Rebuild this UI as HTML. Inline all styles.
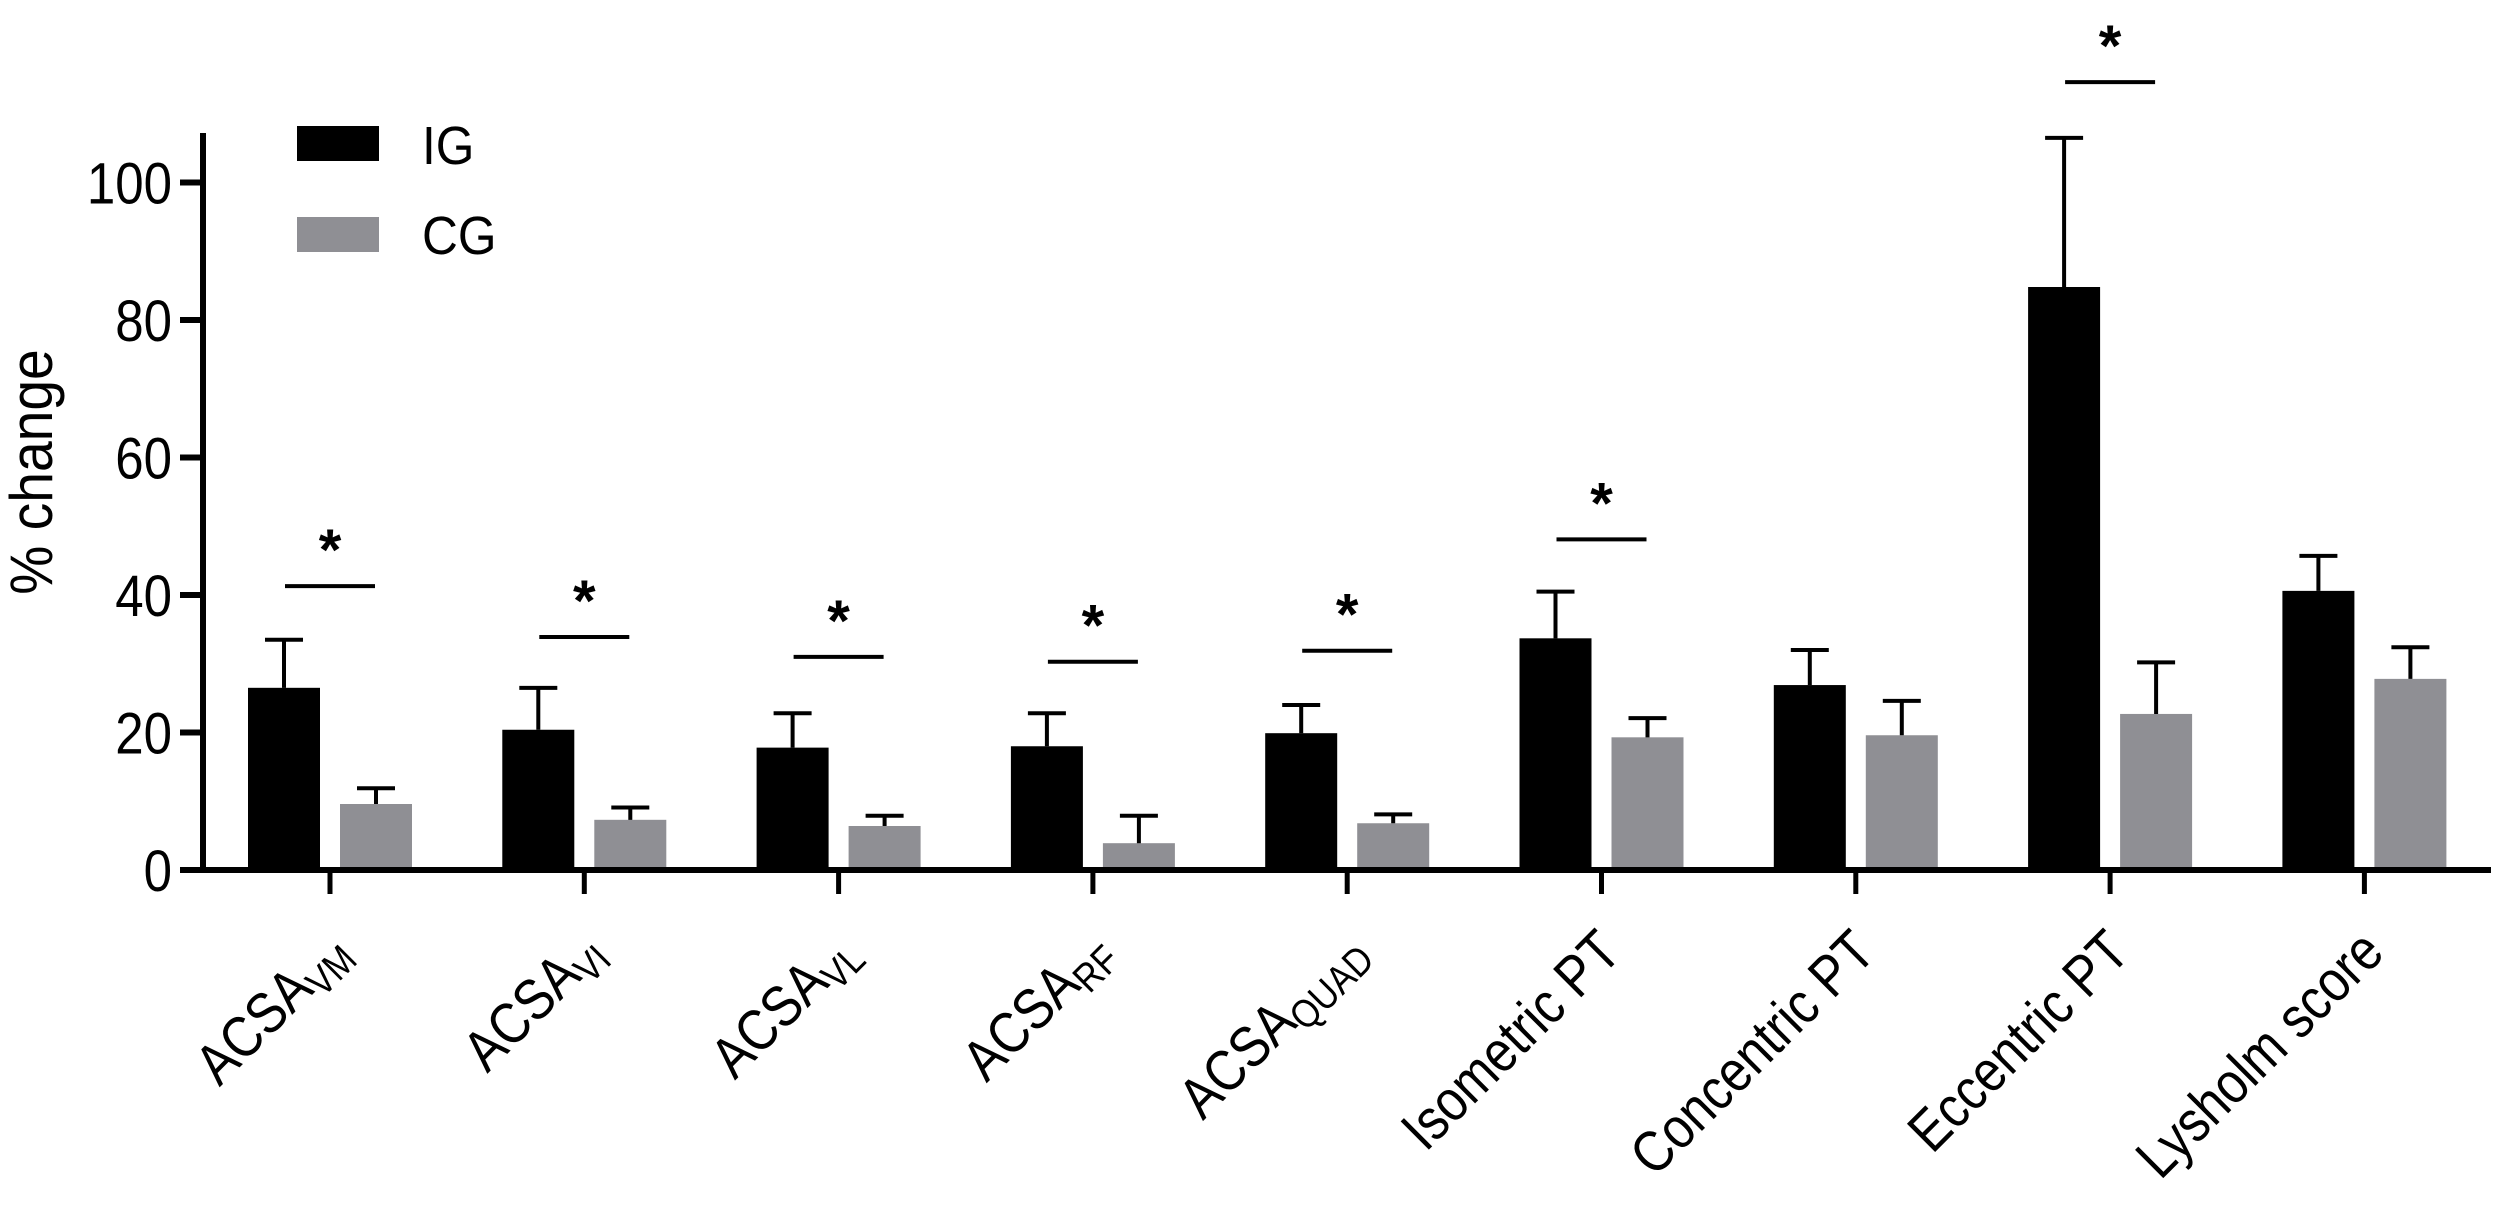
<!DOCTYPE html>
<html><head><meta charset="utf-8"><style>
html,body{margin:0;padding:0;background:#fff;}
svg{display:block;font-family:"Liberation Sans",Arial,sans-serif;}
</style></head><body>
<svg id="chart" width="2500" height="1214" viewBox="0 0 2500 1214" xmlns="http://www.w3.org/2000/svg">
<rect width="2500" height="1214" fill="#fff"/>
<g id="plot"></g>
</svg>
<script>
const categories = ["VM","VI","VL","RF","QUAD","Isometric PT","Concentric PT","Eccentric PT","Lysholm score"];
const igValues = [26.5, 20.4, 17.8, 18.0, 19.9, 33.7, 26.9, 84.8, 40.6];
const igErrTop = [33.5, 26.5, 22.8, 22.8, 24.0, 40.5, 32.0, 106.5, 45.7];
const cgValues = [9.6, 7.3, 6.4, 3.9, 6.8, 19.3, 19.6, 22.7, 27.8];
const cgErrTop = [11.9, 9.1, 7.9, 7.9, 8.1, 22.1, 24.6, 30.2, 32.4];
const sigIndex = [0, 1, 2, 3, 4, 5, 7];
const sigLevel = [41.3, 33.9, 31.0, 30.3, 31.9, 48.1, 114.6];
const yTicks = [0, 20, 40, 60, 80, 100];

const NS = "http://www.w3.org/2000/svg";
const g = document.getElementById("plot");
const Y0 = 870, PXU = 6.875;
function y(v){ return Y0 - v*PXU; }
function x(i){ return 330 + i*254.3; }
function mk(tag, attrs, parent){ const e=document.createElementNS(NS,tag); for(const k in attrs) e.setAttribute(k,attrs[k]); (parent||g).appendChild(e); return e; }

categories.forEach((c,i)=>{
  const cx = x(i);
  let b = mk("rect",{x:cx-82,y:y(igValues[i]),width:72,height:Y0-y(igValues[i]),fill:"#000"});
  
  
  let e = mk("path",{d:`M${cx-46} ${y(igValues[i])}V${y(igErrTop[i])}M${cx-65} ${y(igErrTop[i])}H${cx-27}`,stroke:"#000","stroke-width":4,fill:"none"});
  
  
  let b2 = mk("rect",{x:cx+10,y:y(cgValues[i]),width:72,height:Y0-y(cgValues[i]),fill:"#8f8f94"});
  
  
  let e2 = mk("path",{d:`M${cx+46} ${y(cgValues[i])}V${y(cgErrTop[i])}M${cx+27} ${y(cgErrTop[i])}H${cx+65}`,stroke:"#000","stroke-width":4,fill:"none"});
  
  
});

sigIndex.forEach((gi,k)=>{
  const cx = x(gi), ly = y(sigLevel[k]);
  let l = mk("line",{x1:cx-45,x2:cx+45,y1:ly,y2:ly,stroke:"#000","stroke-width":4});
  
  
  let s = mk("text",{x:cx,y:ly-16,"text-anchor":"middle","font-size":58,"font-weight":"bold"});
  s.textContent="*";
  
  
});

let ya = mk("line",{x1:203,x2:203,y1:133,y2:873,stroke:"#000","stroke-width":6});


let xa = mk("line",{x1:180,x2:2491,y1:870,y2:870,stroke:"#000","stroke-width":6});


yTicks.forEach(v=>{
  let t = mk("line",{x1:180,x2:203,y1:y(v),y2:y(v),stroke:"#000","stroke-width":6});
  
  
  let tl = mk("text",{x:0,y:0,"text-anchor":"end","font-size":58,transform:`translate(172 ${y(v)+21}) scale(0.88 1)`});
  tl.textContent = v;
  
  
});
categories.forEach((c,i)=>{
  const cx = x(i);
  let t = mk("line",{x1:cx,x2:cx,y1:870,y2:894,stroke:"#000","stroke-width":5});
  
  
  let tx = mk("text",{x:0,y:0,"text-anchor":"end","font-size":58,transform:`translate(${cx+22} 955) rotate(-45) scale(0.86 1)`});
  if(i<5){
    const a = document.createElementNS(NS,"tspan"); a.textContent="ACSA"; tx.appendChild(a);
    const s = document.createElementNS(NS,"tspan"); s.setAttribute("font-size","40"); s.setAttribute("dy","10"); s.textContent=c; tx.appendChild(s);
  } else tx.textContent = c;
  
  
});

let yl = mk("text",{x:0,y:0,"text-anchor":"middle","font-size":60,transform:"translate(52 472) rotate(-90) scale(0.92 1)"});
yl.textContent="% change";



let r1 = mk("rect",{x:297,y:126,width:82,height:35,fill:"#000"});


let t1 = mk("text",{x:0,y:0,"font-size":54,transform:"translate(422 164) scale(0.92 1)"}); t1.textContent="IG";


let r2 = mk("rect",{x:297,y:217,width:82,height:35,fill:"#8f8f94"});


let t2 = mk("text",{x:0,y:0,"font-size":54,transform:"translate(422 254) scale(0.92 1)"}); t2.textContent="CG";


</script>
</body></html>
